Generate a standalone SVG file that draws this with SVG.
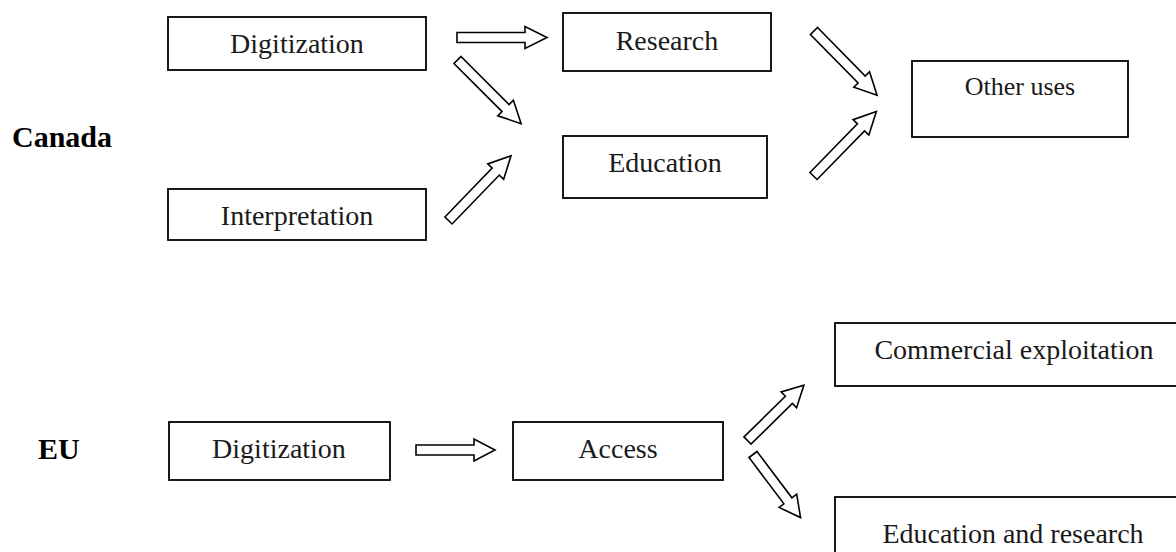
<svg xmlns="http://www.w3.org/2000/svg" xmlns:xlink="http://www.w3.org/1999/xlink" width="1176" height="552" viewBox="0 0 1176 552">
  <style>
    .box { fill: #ffffff; stroke: #000000; stroke-width: 1.8; }
    .lbl { font-family: "Liberation Serif", "Times New Roman", serif; font-size: 28px; fill: #1a1a1a; text-anchor: middle; }
    .small { font-size: 26px; }
    .region { font-family: "Liberation Serif", "Times New Roman", serif; font-size: 30px; font-weight: bold; fill: #000000; }
    .arr { fill: #ffffff; stroke: #000000; stroke-width: 1.6; stroke-linejoin: miter; }
  </style>
  <defs>
    <path id="arrowL" d="M0,-5 H68 V-11 L90,0 L68,11 V5 H0 Z"/>
    <path id="arrowS" d="M0,-5 H58 V-11 L79,0 L58,11 V5 H0 Z"/>
  </defs>
  <rect width="1176" height="552" fill="#ffffff"/>

  <g id="label-canada"><text class="region" x="12" y="147">Canada</text></g>
  <g id="label-eu"><text class="region" x="38" y="459">EU</text></g>

  <g id="ca-digitization">
    <rect class="box" x="168" y="17" width="258" height="53"/>
    <text class="lbl" x="297" y="53">Digitization</text>
  </g>
  <g id="ca-interpretation">
    <rect class="box" x="168" y="189" width="258" height="51"/>
    <text class="lbl" x="297" y="225">Interpretation</text>
  </g>
  <g id="ca-research">
    <rect class="box" x="563" y="13" width="208" height="58"/>
    <text class="lbl" x="667" y="50">Research</text>
  </g>
  <g id="ca-education">
    <rect class="box" x="563" y="136" width="204" height="62"/>
    <text class="lbl" x="665" y="172">Education</text>
  </g>
  <g id="ca-other-uses">
    <rect class="box" x="912" y="61" width="216" height="76"/>
    <text class="lbl small" x="1020" y="95">Other uses</text>
  </g>

  <g id="eu-digitization">
    <rect class="box" x="169" y="422" width="221" height="58"/>
    <text class="lbl" x="279" y="458">Digitization</text>
  </g>
  <g id="eu-access">
    <rect class="box" x="513" y="422" width="210" height="58"/>
    <text class="lbl" x="618" y="458">Access</text>
  </g>
  <g id="eu-commercial">
    <rect class="box" x="835" y="323" width="360" height="63"/>
    <text class="lbl" x="1014" y="359">Commercial exploitation</text>
  </g>
  <g id="eu-education-research">
    <rect class="box" x="835" y="497" width="360" height="70"/>
    <text class="lbl" x="1013" y="543">Education and research</text>
  </g>

  <g id="connectors">
    <use class="arr" xlink:href="#arrowL" href="#arrowL" transform="translate(457,37.5)"/>
    <use class="arr" xlink:href="#arrowL" href="#arrowL" transform="translate(457.5,60) rotate(45)"/>
    <use class="arr" xlink:href="#arrowL" href="#arrowL" transform="translate(448.5,220.5) rotate(-46)"/>
    <use class="arr" xlink:href="#arrowL" href="#arrowL" transform="translate(814,31) rotate(45.5)"/>
    <use class="arr" xlink:href="#arrowL" href="#arrowL" transform="translate(813.5,176) rotate(-45.7)"/>
    <use class="arr" xlink:href="#arrowS" href="#arrowS" transform="translate(416,450)"/>
    <use class="arr" xlink:href="#arrowS" href="#arrowS" transform="translate(747.5,440.5) rotate(-44.5)"/>
    <use class="arr" xlink:href="#arrowS" href="#arrowS" transform="translate(753,454.5) rotate(53)"/>
  </g>
</svg>
